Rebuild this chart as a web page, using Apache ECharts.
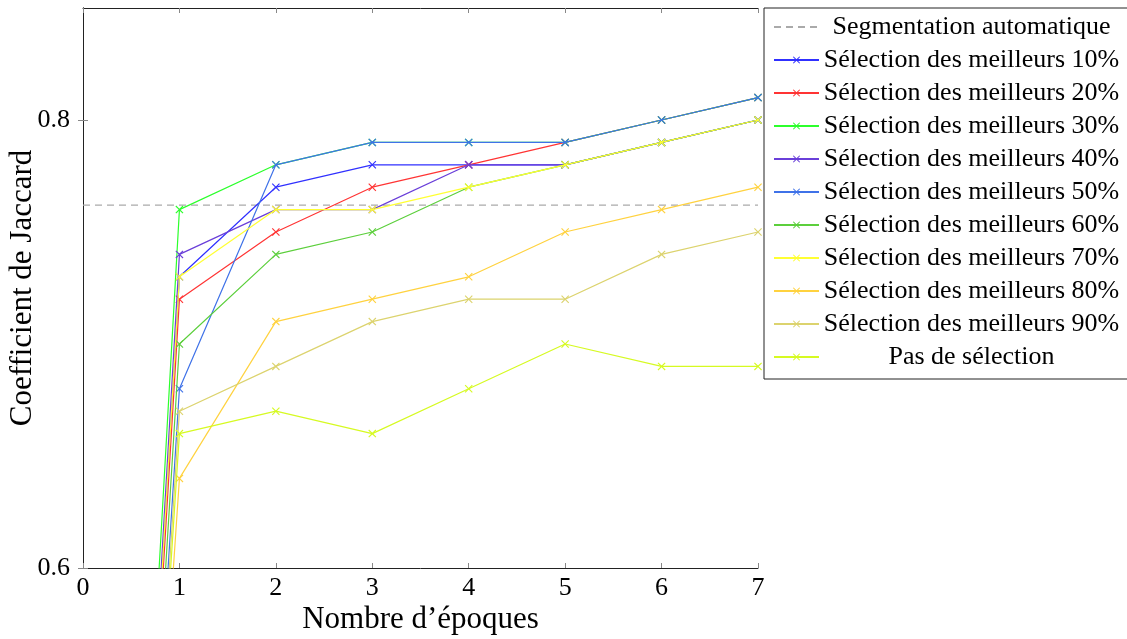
<!DOCTYPE html>
<html>
<head>
<meta charset="utf-8">
<script src="https://cdn.jsdelivr.net/npm/echarts@6/dist/echarts.min.js"></script>
<style>
html,body{margin:0;padding:0;background:#fff;}
#chart{width:1127px;height:639px;}
</style>
</head>
<body>
<div id="chart"></div>
<script>
// ---- data ----
const epochs = [0, 1, 2, 3, 4, 5, 6, 7];
const xTicks = [0, 1, 2, 3, 4, 5, 6, 7];
const yTicks = [0.6, 0.8];
const autoSegValue = 0.762;
const autoSegName = 'Segmentation automatique';

const seriesNames = [
  'Sélection des meilleurs 10%',
  'Sélection des meilleurs 20%',
  'Sélection des meilleurs 30%',
  'Sélection des meilleurs 40%',
  'Sélection des meilleurs 50%',
  'Sélection des meilleurs 60%',
  'Sélection des meilleurs 70%',
  'Sélection des meilleurs 80%',
  'Sélection des meilleurs 90%',
  'Pas de sélection'
];
const sel10  = [0, 0.73, 0.77, 0.78, 0.78, 0.78, 0.79, 0.80];
const sel20  = [0, 0.72, 0.75, 0.77, 0.78, 0.79, 0.80, 0.81];
const sel30  = [0, 0.76, 0.78, 0.79, 0.79, 0.79, 0.80, 0.81];
const sel40  = [0, 0.74, 0.76, 0.76, 0.78, 0.78, 0.79, 0.80];
const sel50  = [0, 0.68, 0.78, 0.79, 0.79, 0.79, 0.80, 0.81];
const sel60  = [0, 0.70, 0.74, 0.75, 0.77, 0.78, 0.79, 0.80];
const sel70  = [0, 0.73, 0.76, 0.76, 0.77, 0.78, 0.79, 0.80];
const sel80  = [0, 0.64, 0.71, 0.72, 0.73, 0.75, 0.76, 0.77];
const sel90  = [0, 0.67, 0.69, 0.71, 0.72, 0.72, 0.74, 0.75];
const noSel  = [0, 0.66, 0.67, 0.66, 0.68, 0.70, 0.69, 0.69];
const allValues = [sel10, sel20, sel30, sel40, sel50, sel60, sel70, sel80, sel90, noSel];

const colors = ['#3030ff', '#ff3434', '#2cff2c', '#6a3fd9', '#3f72e8',
                '#5ccf3c', '#ffff33', '#ffd23f', '#dcd36e', '#d6fa22'];

// ---- chart ----
const FONT = '"Liberation Serif", "Times New Roman", serif';
const crossPath = 'path://M0,1L1,0L5,4L9,0L10,1L6,5L10,9L9,10L5,6L1,10L0,9L4,5Z';

const series = [{
  name: autoSegName,
  type: 'line',
  data: [[xTicks[0], autoSegValue], [xTicks[xTicks.length - 1], autoSegValue]],
  symbol: 'none',
  lineStyle: {color: '#aaaaaa', width: 1.2, type: [7, 5]},
  itemStyle: {color: '#aaaaaa'},
  silent: true,
  z: 1
}];
allValues.forEach((vals, i) => {
  series.push({
    name: seriesNames[i],
    type: 'line',
    data: epochs.map((e, j) => [e, vals[j]]),
    symbol: crossPath,
    symbolSize: 8,
    showAllSymbol: true,
    clip: true,
    lineStyle: {color: colors[i], width: 1.2},
    itemStyle: {color: colors[i]},
    emphasis: {disabled: true},
    z: 2 + i
  });
});

const chart = echarts.init(document.getElementById('chart'), null, {renderer: 'canvas'});
const axisLineStyle = {lineStyle: {color: '#222', width: 1}};
const tickStyle = {inside: true, length: 5, lineStyle: {color: '#888', width: 1}};

const legendData = [{name: autoSegName, itemStyle: {opacity: 0}}].concat(seriesNames.map(n => ({name: n})));

chart.setOption({
  animation: false,
  backgroundColor: '#ffffff',
  color: ['#aaaaaa'].concat(colors),
  grid: {left: 83, right: 369, top: 8, bottom: 71, containLabel: false, outerBoundsMode: 'none'},
  legend: {
    orient: 'vertical',
    left: 764,
    top: 8,
    padding: [6, 12, 9, 9],
    borderColor: '#222',
    borderWidth: 1,
    borderRadius: 0,
    backgroundColor: '#fff',
    itemWidth: 45,
    itemHeight: 9,
    itemGap: 7,
    data: legendData,
    formatter: function (name) { return '{c|' + name + '}'; },
    textStyle: {
      fontFamily: FONT,
      fontSize: 26,
      color: '#000',
      lineHeight: 26,
      rich: {c: {width: 295, align: 'center', fontFamily: FONT, fontSize: 26, color: '#000', lineHeight: 26}}
    },
    selectedMode: false
  },
  xAxis: [{
    type: 'value',
    min: 0, max: 7, interval: 1,
    position: 'bottom',
    name: 'Nombre d’époques',
    nameLocation: 'middle',
    nameGap: 36,
    nameMoveOverlap: false,
    nameTextStyle: {fontFamily: FONT, fontSize: 31, color: '#000'},
    axisLine: axisLineStyle,
    axisTick: tickStyle,
    axisLabel: {fontFamily: FONT, fontSize: 26, color: '#000', margin: 7},
    splitLine: {show: false}
  }, {
    type: 'value',
    min: 0, max: 7, interval: 1,
    position: 'top',
    axisLine: axisLineStyle,
    axisTick: tickStyle,
    axisLabel: {show: false},
    splitLine: {show: false}
  }],
  yAxis: [{
    type: 'value',
    min: 0.6, max: 0.85,
    position: 'left',
    name: 'Coefficient de Jaccard',
    nameLocation: 'middle',
    nameGap: 45,
    nameMoveOverlap: false,
    nameTextStyle: {fontFamily: FONT, fontSize: 31, color: '#000'},
    axisLine: axisLineStyle,
    axisTick: Object.assign({customValues: yTicks}, tickStyle),
    axisLabel: {customValues: yTicks, fontFamily: FONT, fontSize: 26, color: '#000', margin: 13,
      formatter: v => v.toFixed(1)},
    splitLine: {show: false}
  }, {
    type: 'value',
    min: 0.6, max: 0.85,
    position: 'right',
    axisLine: axisLineStyle,
    axisTick: Object.assign({customValues: yTicks}, tickStyle),
    axisLabel: {show: false},
    splitLine: {show: false}
  }],
  series: series
});
</script>
</body>
</html>
